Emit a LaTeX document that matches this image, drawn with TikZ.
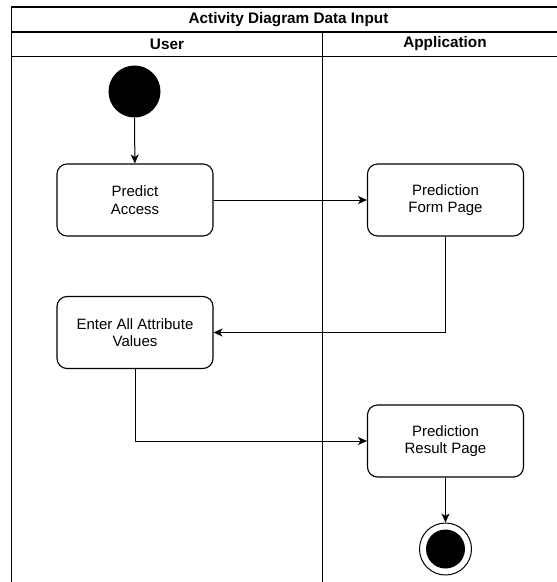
\documentclass[tikz,border=0pt]{standalone}
\usepackage{fontspec}
\setmainfont{Liberation Sans}
\usetikzlibrary{arrows.meta}
\begin{document}
\begin{tikzpicture}[x=1pt,y=-1pt,
  line width=1.1pt,
  actbox/.style={draw,rounded corners=10pt,minimum width=156pt,minimum height=72pt,align=center,font=\fontsize{15}{17.5}\selectfont,inner sep=0pt},
  flow/.style={-{Stealth[length=9pt,width=8pt,inset=2.5pt]},line width=1pt},
  hdr/.style={font=\bfseries\fontsize{15.3}{18}\selectfont,inner sep=0pt}]
\useasboundingbox (0,0) rectangle (557,582);
% frame
\draw (570,7) -- (11.5,7) -- (11.5,585);
\draw (11.5,32) -- (570,32);
\draw (11.5,56.5) -- (570,56.5);
\draw (322.5,32) -- (322.5,585);
\node[hdr] (title) at (288.5,19.5) {Activity Diagram Data Input};
\node[hdr] (user) at (167,44) {User};
\node[hdr] (app) at (445,44) {Application};
% nodes
\node[circle,fill=black,minimum size=52pt,inner sep=0pt] (start) at (134.5,91.5) {};
\node[actbox] (predict) at (135,200) {Predict\\Access};
\node[actbox] (form) at (445.5,200) {Prediction\\Form Page};
\node[actbox] (enter) at (135,332.5) {Enter All Attribute\\Values};
\node[actbox] (result) at (445.5,441) {Prediction\\Result Page};
\node[circle,draw,line width=1pt,minimum size=52pt,inner sep=0pt] (stop) at (445.5,549) {};
\node[circle,fill=black,minimum size=39pt,inner sep=0pt] (stopin) at (stop.center) {};
% connectors
\draw[flow] (start) -- (predict);
\draw[flow] (predict) -- (form);
\draw[flow] (form.south) |- (enter.east);
\draw[flow] (enter.south) |- (result.west);
\draw[flow] (result) -- (stop);
\end{tikzpicture}
\end{document}
